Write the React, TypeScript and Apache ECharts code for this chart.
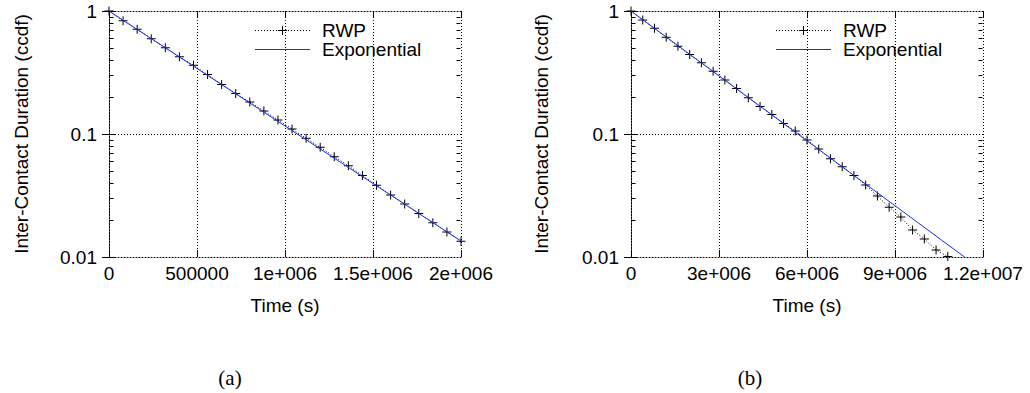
import React, { useEffect, useRef } from "react";
import * as echarts from "echarts";

// ---------- data ----------
const leftTimes = [0, 80000, 160000, 240000, 320000, 400000, 480000, 560000, 640000, 720000, 800000, 880000, 960000, 1040000, 1120000, 1200000, 1280000, 1360000, 1440000, 1520000, 1600000, 1680000, 1760000, 1840000, 1920000, 2000000];
const leftRWP = [1, 0.834, 0.709, 0.596, 0.503, 0.425, 0.362, 0.304, 0.253, 0.213, 0.182, 0.154, 0.13, 0.11, 0.0922, 0.0779, 0.0654, 0.0553, 0.0459, 0.0383, 0.0319, 0.027, 0.0226, 0.019, 0.016, 0.0134];
const leftExpTimes = [0, 2000000];
const leftExp = [1, 0.0135];

const rightTimes = [0, 400000, 800000, 1200000, 1600000, 2000000, 2400000, 2800000, 3200000, 3600000, 4000000, 4400000, 4800000, 5200000, 5600000, 6000000, 6400000, 6800000, 7200000, 7600000, 8000000, 8400000, 8800000, 9200000, 9600000, 10000000, 10400000, 10800000];
const rightRWP = [1, 0.845, 0.723, 0.611, 0.516, 0.442, 0.38, 0.323, 0.275, 0.234, 0.197, 0.167, 0.144, 0.122, 0.106, 0.0894, 0.0755, 0.063, 0.0542, 0.0459, 0.0385, 0.0313, 0.0254, 0.0211, 0.0166, 0.014, 0.0114, 0.0101];
const rightExpTimes = [0, 11370000];
const rightExp = [1, 0.01];

const leftXTicks = { min: 0, max: 2000000, interval: 500000 };
const rightXTicks = { min: 0, max: 12000000, interval: 3000000 };
const yRange = { min: 0.01, max: 1 };
const minorYTicks = [0.02, 0.03, 0.04, 0.05, 0.06, 0.07, 0.08, 0.09, 0.2, 0.3, 0.4, 0.5, 0.6, 0.7, 0.8, 0.9];
const seriesNames = ["RWP", "Exponential"];
const xTitle = "Time (s)";
const yTitle = "Inter-Contact Duration (ccdf)";
const panelLabels = ["(a)", "(b)"];

// ---------- helpers ----------
const FONT = "Liberation Sans, Arial, sans-serif";
const SERIF = "Liberation Serif, Times New Roman, serif";
const FS = 19;
const BLUE = "#1a2cf0";
const PLUS = "path://M4,0 L5,0 L5,4 L9,4 L9,5 L5,5 L5,9 L4,9 L4,5 L0,5 L0,4 L4,4 Z";

function gFormat(v: number): string {
  if (v === 0) return "0";
  if (Math.abs(v) >= 1e6) {
    const e = Math.floor(Math.log10(Math.abs(v)) + 1e-9);
    const m = v / Math.pow(10, e);
    return `${parseFloat(m.toPrecision(6))}e+${String(e).padStart(3, "0")}`;
  }
  return String(v);
}

const dotted = [1, 2];

function bottomX(gridIndex: number, t: { min: number; max: number; interval: number }) {
  return {
    type: "value",
    gridIndex,
    position: "bottom",
    min: t.min,
    max: t.max,
    interval: t.interval,
    name: xTitle,
    nameLocation: "middle",
    nameGap: 39,
    nameTextStyle: { fontFamily: FONT, fontSize: FS, color: "#000" },
    axisLine: { show: true, lineStyle: { color: "#000", type: dotted, width: 1 } },
    axisTick: { show: true, inside: true, length: 7, lineStyle: { color: "#000", width: 1 } },
    axisLabel: {
      show: true,
      margin: 7,
      fontFamily: FONT,
      fontSize: FS,
      color: "#000",
      formatter: (v: number) => gFormat(v),
    },
    splitLine: { show: true, lineStyle: { color: "#000", type: dotted, width: 1 } },
  };
}

function topX(gridIndex: number, t: { min: number; max: number; interval: number }) {
  return {
    type: "value",
    gridIndex,
    position: "top",
    min: t.min,
    max: t.max,
    interval: t.interval,
    axisLine: { show: true, lineStyle: { color: "#000", type: dotted, width: 1 } },
    axisTick: { show: true, inside: true, length: 7, lineStyle: { color: "#000", width: 1 } },
    axisLabel: { show: false },
    splitLine: { show: false },
  };
}

function leftY(gridIndex: number, gap: number) {
  return {
    type: "log",
    logBase: 10,
    gridIndex,
    position: "left",
    min: yRange.min,
    max: yRange.max,
    name: yTitle,
    nameLocation: "middle",
    nameRotate: 90,
    nameGap: gap,
    nameTextStyle: { fontFamily: FONT, fontSize: FS, color: "#000" },
    axisLine: { show: true, lineStyle: { color: "#000", type: dotted, width: 1 } },
    axisTick: { show: true, inside: true, length: 7, lineStyle: { color: "#000", width: 1 } },
    axisLabel: {
      show: true,
      margin: 12,
      fontFamily: FONT,
      fontSize: FS,
      color: "#000",
      formatter: (v: number) => String(parseFloat(v.toPrecision(6))),
    },
    splitLine: { show: true, lineStyle: { color: "#000", type: dotted, width: 1 } },
  };
}

function rightY(gridIndex: number) {
  return {
    type: "log",
    logBase: 10,
    gridIndex,
    position: "right",
    min: yRange.min,
    max: yRange.max,
    axisLine: { show: true, lineStyle: { color: "#000", type: dotted, width: 1 } },
    axisTick: { show: true, inside: true, length: 7, lineStyle: { color: "#000", width: 1 } },
    axisLabel: { show: false },
    splitLine: { show: false },
  };
}

function zip(xs: number[], ys: number[]) {
  return xs.map((x, i) => [x, ys[i]]);
}

function minorSeries(axisIndex: number) {
  return {
    type: "custom",
    xAxisIndex: axisIndex,
    yAxisIndex: axisIndex,
    silent: true,
    z: 3,
    data: minorYTicks.map((v) => [0, v]),
    encode: { x: 0, y: 1 },
    renderItem: (params: any, api: any) => {
      const cs = params.coordSys;
      const y = Math.round(api.coord([0, api.value(1)])[1]) + 0.5;
      const xl = Math.round(cs.x) + 0.5;
      const xr = Math.round(cs.x + cs.width) - 0.5;
      return {
        type: "group",
        children: [
          { type: "line", shape: { x1: xl, y1: y, x2: xl + 4, y2: y }, style: { stroke: "#000", lineWidth: 1 } },
          { type: "line", shape: { x1: xr - 4, y1: y, x2: xr, y2: y }, style: { stroke: "#000", lineWidth: 1 } },
        ],
      };
    },
  };
}

function rwpSeries(axisIndex: number, xs: number[], ys: number[]) {
  return {
    name: seriesNames[0],
    type: "line",
    xAxisIndex: axisIndex,
    yAxisIndex: axisIndex,
    data: zip(xs, ys),
    symbol: PLUS,
    symbolSize: 9,
    showSymbol: true,
    itemStyle: { color: "#000" },
    lineStyle: { color: "#000", width: 1, type: dotted },
    z: 4,
  };
}

function expSeries(axisIndex: number, xs: number[], ys: number[]) {
  return {
    name: seriesNames[1],
    type: "line",
    xAxisIndex: axisIndex,
    yAxisIndex: axisIndex,
    data: zip(xs, ys),
    symbol: "none",
    itemStyle: { color: BLUE },
    lineStyle: { color: BLUE, width: 1 },
    z: 5,
  };
}

// legend drawn as graphic elements (sample at x0..x0+55, text at x0+67)
function legendGraphic(x0: number) {
  const y1 = 30.5;
  const y2 = 49.5;
  const cx = x0 + 27.5;
  return {
    type: "group",
    children: [
      { type: "line", shape: { x1: x0, y1, x2: x0 + 55, y2: y1 }, style: { stroke: "#000", lineWidth: 1, lineDash: [1, 2] } },
      { type: "line", shape: { x1: cx, y1: y1 - 4.5, x2: cx, y2: y1 + 4.5 }, style: { stroke: "#000", lineWidth: 1 } },
      { type: "line", shape: { x1: cx - 4.5, y1, x2: cx + 4.5, y2: y1 }, style: { stroke: "#000", lineWidth: 1 } },
      {
        type: "text",
        x: x0 + 67,
        y: 30,
        style: { text: seriesNames[0], fontFamily: FONT, fontSize: FS, fill: "#000", verticalAlign: "middle", align: "left" },
      },
      { type: "line", shape: { x1: x0, y1: y2, x2: x0 + 55, y2 }, style: { stroke: BLUE, lineWidth: 1 } },
      {
        type: "text",
        x: x0 + 67,
        y: 49.7,
        style: { text: seriesNames[1], fontFamily: FONT, fontSize: FS, fill: "#000", verticalAlign: "middle", align: "left" },
      },
    ],
  };
}

export default function App() {
  const ref = useRef<HTMLDivElement>(null);
  useEffect(() => {
    if (!ref.current) return;
    const chart = echarts.init(ref.current, undefined, { renderer: "svg" });
    const option: any = {
      animation: false,
      backgroundColor: "#fff",
      textStyle: { fontFamily: FONT },
      grid: [
        { left: 109, top: 11, width: 352, height: 246, containLabel: false },
        { left: 631, top: 11, width: 352, height: 246, containLabel: false },
      ],
      xAxis: [bottomX(0, leftXTicks), topX(0, leftXTicks), bottomX(1, rightXTicks), topX(1, rightXTicks)],
      yAxis: [leftY(0, 78), rightY(0), leftY(1, 80), rightY(1)],
      series: [
        minorSeries(0),
        minorSeries(2),
        rwpSeries(0, leftTimes, leftRWP),
        expSeries(0, leftExpTimes, leftExp),
        rwpSeries(2, rightTimes, rightRWP),
        expSeries(2, rightExpTimes, rightExp),
      ],
      graphic: [
        legendGraphic(255),
        legendGraphic(776),
        {
          type: "text",
          x: 230,
          y: 378,
          style: { text: panelLabels[0], fontFamily: SERIF, fontSize: 21, fill: "#000", align: "center", verticalAlign: "middle" },
        },
        {
          type: "text",
          x: 750,
          y: 378,
          style: { text: panelLabels[1], fontFamily: SERIF, fontSize: 21, fill: "#000", align: "center", verticalAlign: "middle" },
        },
      ],
    };
    chart.setOption(option);
    return () => chart.dispose();
  }, []);
  return (
    <div
      ref={ref}
      style={{ position: "absolute", left: 0, top: 0, width: 1030, height: 393, background: "#fff" }}
    />
  );
}
